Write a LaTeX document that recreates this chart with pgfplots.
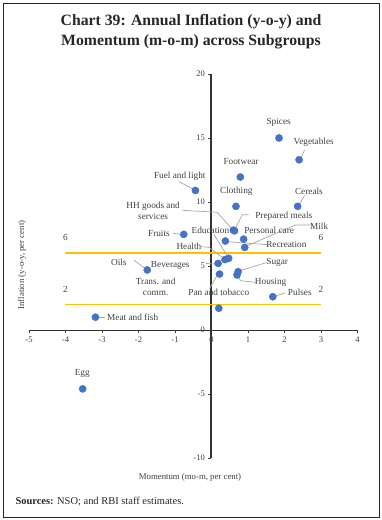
\documentclass[border=0pt]{standalone}
\usepackage{pgfplots}
\pgfplotsset{compat=1.18}
\usepackage{fontspec}
\setmainfont{Liberation Serif}
\definecolor{dotblue}{HTML}{4472C4}
\definecolor{gold}{HTML}{FFC000}
\definecolor{lead}{HTML}{A6A6A6}
\definecolor{txt}{HTML}{404040}
\tikzset{lbl/.style={font=\fontsize{9.3}{10.5}\selectfont, text=txt, inner sep=0pt}}
\begin{document}
\begin{tikzpicture}
\useasboundingbox (0bp,0bp) rectangle (382bp,520bp);
\draw[line width=0.9bp, black!85] (3bp,3bp) rectangle (379bp,517bp);
\node[align=center, font=\fontsize{15.8}{20}\selectfont\bfseries, text=black!85] at (191bp,488bp) {Chart 39: Annual Inflation (y-o-y) and\\Momentum (m-o-m) across Subgroups};
\node[rotate=90, font=\fontsize{8.8}{10}\selectfont, text=txt] at (22bp,255bp) {Inflation (y-o-y, per cent)};
\node[font=\fontsize{8.8}{10}\selectfont, text=txt] at (190bp,43bp) {Momentum (mo-m, per cent)};
\node[anchor=west, font=\fontsize{10.5}{12}\selectfont, text=black!85] at (12bp,18bp) {\textbf{Sources:} NSO; and RBI staff estimates.};
\begin{axis}[
  at={(29bp,62bp)}, anchor=south west,
  x=36.5bp, y=12.8bp,
  xmin=-5, xmax=4, ymin=-10, ymax=20,
  enlargelimits=false, clip=false,
  axis lines=middle,
  axis line style={-},
  x axis line style={line width=0.9bp, color=black!80},
  y axis line style={line width=2bp, color=black!80},
  xtick={-5,-4,...,4}, ytick={-10,-5,...,20},
  hide obscured x ticks=false, hide obscured y ticks=false,
  tick align=outside,
  major tick length=3bp,
  tick style={color=black!75, line width=0.6bp},
  xticklabel style={font=\fontsize{8.6}{9}\selectfont, text=txt},
  yticklabel style={font=\fontsize{8.6}{9}\selectfont, text=txt},
  /pgf/number format/assume math mode=true,
]
% threshold lines
\addplot[gold, line width=1.6bp] coordinates {(-4,6) (3,6)};
\addplot[gold, line width=1.6bp] coordinates {(-4,2) (3,2)};
\node[lbl] at (axis cs:-4,7.25) {6};
\node[lbl] at (axis cs:3,7.25) {6};
\node[lbl] at (axis cs:-4,3.2) {2};
\node[lbl] at (axis cs:3,3.2) {2};
% leader lines
\draw[lead, line width=0.7bp] (axis cs:2.55,14.06) -- (axis cs:2.45,13.45);
\draw[lead, line width=0.7bp] (axis cs:-0.9,11.6) -- (axis cs:-0.5,11.0);
\draw[lead, line width=0.7bp] (axis cs:2.55,10.5) -- (axis cs:2.4,9.8);
\draw[lead, line width=0.7bp] (axis cs:-0.8,9.35) -- (axis cs:0.15,9.2) -- (axis cs:0.58,7.85);
\draw[lead, line width=0.7bp] (axis cs:1.02,9.0) -- (axis cs:0.84,9.0) -- (axis cs:0.64,7.85);
\draw[lead, line width=0.7bp] (axis cs:2.72,8.2) -- (axis cs:2.3,8.2) -- (axis cs:0.95,6.55);
\draw[lead, line width=0.7bp] (axis cs:1.55,6.66) -- (axis cs:0.43,6.9);
\draw[lead, line width=0.7bp] (axis cs:0.06,7.5) -- (axis cs:0.45,5.7);
\draw[lead, line width=0.7bp] (axis cs:-0.3,6.51) -- (axis cs:-0.07,6.46) -- (axis cs:0.35,5.55);
\draw[lead, line width=0.7bp] (axis cs:-2.13,5.47) -- (axis cs:-1.8,4.75);
\draw[lead, line width=0.7bp] (axis cs:-1.05,7.55) -- (axis cs:-0.85,7.47);
\draw[lead, line width=0.7bp] (axis cs:-0.15,5.2) -- (axis cs:0.12,5.15);
\draw[lead, line width=0.7bp] (axis cs:-0.05,3.25) -- (axis cs:0.16,4.3);
\draw[lead, line width=0.7bp] (axis cs:1.5,5.26) -- (axis cs:0.8,4.65);
\draw[lead, line width=0.7bp] (axis cs:1.2,3.73) -- (axis cs:0.8,3.85) -- (axis cs:0.72,4.2);
\draw[lead, line width=0.7bp] (axis cs:2.02,2.9) -- (axis cs:1.75,2.65);
\draw[lead, line width=0.7bp] (axis cs:-2.92,0.98) -- (axis cs:-3.1,0.98);
% subgroups
\addplot[only marks, mark=*, mark size=3.6bp, mark options={fill=dotblue, draw=dotblue}] table {
x y
1.85 15.0
2.40 13.3
0.79 11.95
-0.44 10.9
0.67 9.66
2.36 9.66
0.60 7.80
0.63 7.75
0.47 5.60
0.37 5.50
0.88 7.10
0.91 6.45
0.38 6.95
-0.76 7.47
0.18 5.20
0.22 4.37
0.73 4.56
0.70 4.30
1.68 2.60
0.20 1.70
-1.76 4.69
-3.18 1.00
-3.53 -4.60
};
% labels
\node[lbl] at (axis cs:1.84,16.2) {Spices};
\node[lbl] at (axis cs:2.80,14.63) {Vegetables};
\node[lbl] at (axis cs:0.81,13.13) {Footwear};
\node[lbl] at (axis cs:-0.87,12.03) {Fuel and light};
\node[lbl] at (axis cs:0.68,10.86) {Clothing};
\node[lbl] at (axis cs:2.67,10.86) {Cereals};
\node[lbl, align=center] at (axis cs:-1.60,9.32) {HH goods and\\services};
\node[lbl] at (axis cs:1.98,8.85) {Prepared meals};
\node[lbl] at (axis cs:-0.03,7.81) {Education};
\node[lbl] at (axis cs:1.58,7.79) {Personal care};
\node[lbl] at (axis cs:2.95,8.1) {Milk};
\node[lbl] at (axis cs:2.05,6.66) {Recreation};
\node[lbl] at (axis cs:-1.44,7.55) {Fruits};
\node[lbl] at (axis cs:-0.62,6.51) {Health};
\node[lbl] at (axis cs:-2.54,5.26) {Oils};
\node[lbl] at (axis cs:-1.13,5.08) {Beverages};
\node[lbl, align=center] at (axis cs:-1.53,3.36) {Trans. and\\comm.};
\node[lbl] at (axis cs:1.80,5.26) {Sugar};
\node[lbl] at (axis cs:1.62,3.73) {Housing};
\node[lbl] at (axis cs:0.20,2.91) {Pan and tobacco};
\node[lbl] at (axis cs:2.42,2.95) {Pulses};
\node[lbl] at (axis cs:-2.16,0.96) {Meat and fish};
\node[lbl] at (axis cs:-3.54,-3.38) {Egg};
\end{axis}
\end{tikzpicture}
\end{document}
